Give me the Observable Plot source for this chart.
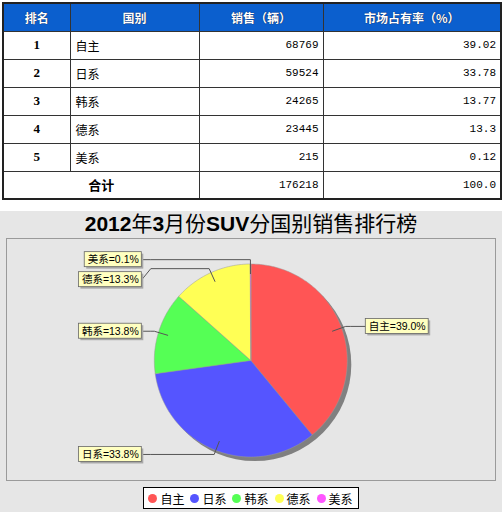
<!DOCTYPE html>
<html>
<head>
<meta charset="utf-8">
<script src="https://cdn.jsdelivr.net/npm/d3@7"></script>
<script src="https://cdn.jsdelivr.net/npm/@observablehq/plot@0.6"></script>
<style>
  html, body { margin: 0; padding: 0; background: #fff; }
  body { width: 502px; height: 512px; overflow: hidden; position: relative; font-family: "Noto Sans CJK SC", "Liberation Sans", sans-serif; }
  #tbl { position: absolute; left: 2px; top: 2px; width: 498px; border-collapse: collapse; table-layout: fixed; font-size: 12px; border: 2px solid #222; }
  #tbl td, #tbl th { border: 1px solid #333; padding: 0 5px; height: 28px; box-sizing: border-box; }
  #tbl th { background: #0b5fce; color: #fff; font-weight: bold; font-size: 12px; text-shadow: 0 0 1px #002; }
  #tbl td.rank { text-align: center; font-family: "Liberation Serif", serif; font-weight: bold; font-size: 13px; }
  #tbl td.num { text-align: right; font-family: "Liberation Mono", monospace; font-size: 11px; padding-right: 4px; }
  #tbl td.total { text-align: center; font-weight: bold; font-size: 13px; }
  #chart { position: absolute; left: 0; top: 211px; width: 502px; height: 301px; background: #e6e6e6; }
  #title { height: 25px; line-height: 26px; text-align: center; font-size: 21px; color: #000; font-family: "Liberation Sans", "Noto Sans CJK SC", sans-serif; white-space: nowrap; }
  #title b { font-weight: bold; }
  #plot svg { display: block; }
  #legend { margin: 3px auto 0; width: fit-content; height: 22px; box-sizing: border-box; border: 1px solid #000; background: #fff; display: flex; align-items: center; padding: 0 5px 0 4px; gap: 6px; font-size: 12px; }
  #legend .it { display: flex; align-items: center; gap: 3px; }
  #legend .sw { width: 9px; height: 9px; border-radius: 50%; display: inline-block; }
</style>
</head>
<body>
<table id="tbl"></table>
<div id="chart">
  <div id="title"></div>
  <div id="plot"></div>
  <div id="legend"></div>
</div>
<script>
// ---- data ----
const headers = ["排名", "国别", "销售（辆）", "市场占有率（%）"];
const ranks = [1, 2, 3, 4, 5];
const countries = ["自主", "日系", "韩系", "德系", "美系"];
const sales = [68769, 59524, 24265, 23445, 215];
const shares = ["39.02", "33.78", "13.77", "13.3", "0.12"];
const totalLabel = "合计";
const totalSales = 176218;
const totalShare = "100.0";
const sliceColors = ["#ff5555", "#5555ff", "#55ff55", "#ffff55", "#ff55ff"];
const chartTitle = "2012年3月份SUV分国别销售排行榜";

// ---- table ----
const colWidths = [67, 129, 124, 178];
const tbl = document.getElementById("tbl");
let html = "<colgroup>" + colWidths.map(w => `<col style="width:${w}px">`).join("") + "</colgroup>";
html += "<tr>" + headers.map(h => `<th>${h}</th>`).join("") + "</tr>";
ranks.forEach((r, i) => {
  html += `<tr><td class="rank">${r}</td><td>${countries[i]}</td><td class="num">${sales[i]}</td><td class="num">${shares[i]}</td></tr>`;
});
html += `<tr><td class="total" colspan="2">${totalLabel}</td><td class="num">${totalSales}</td><td class="num">${totalShare}</td></tr>`;
tbl.innerHTML = html;

// ---- title ----
document.getElementById("title").innerHTML =
  chartTitle.replace(/([0-9A-Za-z]+)/g, "<b>$1</b>");

// ---- pie geometry ----
const R = 96.5;
const data = countries.map((name, i) => ({name, sales: sales[i]}));
const total = d3.sum(sales);
const arcs = d3.pie().sort(null).value(d => d.sales)(data);
const deg = Math.PI / 180;
const slicePts = arcs.flatMap(a => {
  const n = Math.max(2, Math.ceil((a.endAngle - a.startAngle) / deg));
  const pts = [{name: a.data.name, x: 0, y: 0}];
  for (let i = 0; i <= n; i++) {
    const t = a.startAngle + (a.endAngle - a.startAngle) * i / n;
    pts.push({name: a.data.name, x: R * Math.sin(t), y: R * Math.cos(t)});
  }
  return pts;
});

// ---- labels ----
const labelFont = '10.5px "Liberation Sans", "Noto Sans CJK SC", sans-serif';
const ctx = document.createElement("canvas").getContext("2d");
ctx.font = labelFont;
const fmt = d3.format(".1%");
const labels = arcs.map(a => {
  const m = (a.startAngle + a.endAngle) / 2;
  const s = Math.sin(m), c = Math.cos(m);
  return {
    name: a.data.name,
    text: `${a.data.name}=${fmt(a.data.sales / total)}`,
    side: s < 0 ? -1 : 1,
    linkX: 0.9 * R * s, linkY: 0.9 * R * c,
    elbowX: 1.045 * R * s, elbowY: 1.045 * R * c,
    y: 1.045 * R * c
  };
});
for (const side of [-1, 1]) {
  const g = labels.filter(l => l.side === side).sort((a, b) => b.y - a.y);
  for (let i = 1; i < g.length; i++) if (g[i].y > g[i - 1].y - 20) g[i].y = g[i - 1].y - 20;
}
labels.forEach(l => {
  l.anchorX = l.side < 0 ? -100 : 100;
  l.targetX = l.side < 0 ? -109 : 115;
  l.w = ctx.measureText(l.text).width + 6;
  l.x1 = l.side < 0 ? l.targetX - l.w : l.targetX;
  l.x2 = l.side < 0 ? l.targetX : l.targetX + l.w;
  l.tx = (l.x1 + l.x2) / 2;
});
const linkPts = labels.flatMap(l => [
  {name: l.name, x: l.linkX, y: l.linkY},
  {name: l.name, x: l.elbowX, y: l.elbowY},
  {name: l.name, x: l.anchorX, y: l.elbowY},
  {name: l.name, x: l.targetX, y: l.y}
]);

const chart = Plot.plot({
  width: 502,
  height: 248,
  marginLeft: 6,
  marginRight: 7,
  marginTop: 2,
  marginBottom: 4,
  x: {domain: [-244.3, 244.7], axis: null},
  y: {domain: [-120, 122], axis: null},
  color: {domain: countries, range: sliceColors},
  style: {background: "transparent", fontFamily: '"Liberation Sans", "Noto Sans CJK SC", sans-serif', fontSize: "10.5px", overflow: "visible"},
  marks: [
    Plot.frame({stroke: "#9a9a9a"}),
    Plot.dot([{x: 0, y: 0}], {x: "x", y: "y", r: R, dx: 4, dy: 4, fill: "#808080", stroke: null}),
    Plot.line(slicePts, {x: "x", y: "y", z: "name", fill: "name", stroke: "#9a9a9a", strokeWidth: 0.5, curve: "linear-closed"}),
    Plot.line(linkPts, {x: "x", y: "y", z: "name", stroke: "#555", strokeWidth: 1}),
    Plot.rect(labels, {x1: "x1", x2: "x2", y1: d => d.y - 7.5, y2: d => d.y + 7.5, dx: 2, dy: 2, fill: "#a8a8a8"}),
    Plot.rect(labels, {x1: "x1", x2: "x2", y1: d => d.y - 7.5, y2: d => d.y + 7.5, fill: "#ffffc0", stroke: "#666", strokeWidth: 0.8}),
    Plot.text(labels, {x: "tx", y: "y", text: "text", fill: "#000", fontSize: 10.5})
  ]
});
document.getElementById("plot").appendChild(chart);

// ---- legend ----
document.getElementById("legend").innerHTML = countries.map((c, i) =>
  `<span class="it"><span class="sw" style="background:${sliceColors[i]}"></span>${c}</span>`).join("");
</script>
</body>
</html>
